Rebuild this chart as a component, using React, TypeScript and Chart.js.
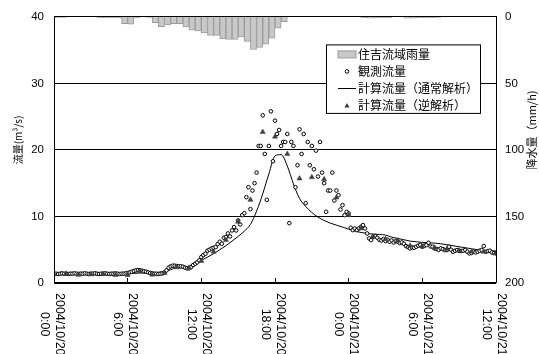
import React, { useEffect, useRef } from "react";
import { Chart, registerables } from "chart.js";

Chart.register(...registerables);

// ---- data ----
// rainfall (mm/h), half-hour steps starting 2004/10/20 0:00
const rainStepHours = 0.5;
const rain = [
  0.3, 0.3, 0, 0, 0, 0, 0, 0.5, 0.5, 0.5, 0.5, 5, 5.5, 0.7, 0, 0.3, 4.3, 7.3,
  6, 5, 5, 7.5, 10, 10.5, 12, 14, 14, 16.5, 17, 17, 15, 18.5, 24.5, 23, 20.5, 16,
  8.5, 3.5, 0, 0, 0, 0, 0, 0, 0, 0, 0, 0, 0, 0, 0.5, 1, 0.5, 0.5, 0.5, 0,
  0, 1, 1, 0.5, 0.5, 0.5, 0.3, 0, 0, 0, 0, 0, 0, 0, 0, 0,
];

// observed flow (m3/s), 10-minute steps
const obsStepHours = 1 / 6;
const obsFlow = [
  1.4, 1.4, 1.35, 1.4, 1.45, 1.4, 1.4, 1.35, 1.4, 1.4, 1.45, 1.4,
  1.35, 1.4, 1.4, 1.45, 1.4, 1.35, 1.4, 1.4, 1.45, 1.4, 1.35, 1.4,
  1.4, 1.45, 1.4, 1.35, 1.4, 1.4, 1.45, 1.4, 1.35, 1.4, 1.4, 1.45,
  1.5, 1.6, 1.7, 1.8, 1.9, 1.95, 1.9, 1.85, 1.75, 1.7, 1.6, 1.5,
  1.45, 1.4, 1.4, 1.35, 1.4, 1.45, 1.6, 1.9, 2.3, 2.5, 2.6, 2.6,
  2.55, 2.5, 2.5, 2.45, 2.3, 2.2, 2.2, 2.4, 2.7, 2.9, 3.1, 3.4,
  3.9, 4.2, 4.4, 4.85, 5.0, 5.2, 5.3, 5.4, 5.85, 6.2, 5.9, 6.8,
  6.9, 7.45, 7.0, 7.9, 8.4, 7.9, 9.4, 8.8, 10.2, 10.5, 12.9, 14.4,
  11.1, 13.9, 15.0, 16.6, 20.6, 20.6, 25.2, 19.4, 12.5, 20.6, 25.8, 18.3,
  24.4, 22.4, 23.0, 20.6, 21.2, 21.2, 22.4, 9.0, 21.2, 20.6, 14.4, 17.7,
  23.1, 19.4, 22.4, 12.0, 21.2, 17.7, 20.6, 17.1, 19.9, 16.0, 21.2, 16.6,
  15.0, 10.7, 13.9, 13.9, 16.6, 12.4, 13.9, 13.2, 11.05, 11.7, 10.2, 10.7,
  10.45, 8.3, 7.95, 8.2, 7.95, 8.2, 8.45, 8.7, 8.2, 7.45, 6.7, 6.45,
  6.95, 7.05, 6.8, 6.5, 6.4, 6.6, 6.3, 6.5, 6.2, 6.4, 6.1, 6.3,
  6.2, 6.0, 6.1, 5.9, 5.55, 5.4, 5.2, 5.35, 5.3, 5.45, 5.6, 5.7,
  5.45, 5.6, 5.7, 6.05, 5.5, 5.45, 5.2, 5.1, 5.0, 5.2, 5.1, 4.95,
  4.95, 5.45, 5.0, 4.7, 4.85, 4.95, 4.85, 4.8, 4.85, 4.95, 4.7, 4.45,
  4.5, 4.7, 4.6, 4.7, 4.85, 4.95, 5.55, 4.7, 4.8, 4.85, 4.6, 4.5,
  4.45,
];

// calculated flow, normal analysis (m3/s), half-hour steps
const calcStepHours = 0.5;
const calcNormal = [
  1.35, 1.35, 1.35, 1.35, 1.35, 1.35, 1.35, 1.35, 1.35, 1.35, 1.35, 1.35,
  1.4, 1.45, 1.5, 1.5, 1.55, 1.6, 1.7, 2.0, 2.3, 2.4, 2.5, 2.9,
  3.4, 3.9, 4.4, 5.0, 5.6, 6.3, 7.0, 7.8, 8.8, 10.8, 13.4, 16.4,
  19.1, 19.3, 17.6, 14.9, 12.7, 11.5, 10.6, 9.9, 9.4, 9.0, 8.7, 8.4,
  8.1, 7.8, 7.6, 7.45, 7.35, 7.3, 7.2, 6.9, 6.7, 6.5, 6.3, 6.2,
  6.1, 6.05, 6.0, 5.9, 5.75, 5.6, 5.45, 5.3, 5.15, 5.0, 4.9, 4.85,
  4.8,
];

// calculated flow, inverse analysis (m3/s), hourly
const invStepHours = 1;
const calcInverse = [
  1.3, 1.4, 1.25, 1.3, 1.35, 1.2, 1.2, 1.8, 1.25, 1.5, 2.35, 2.3,
  3.3, 4.7, 6.45, 9.2, 12.5, 22.7, 22.0, 19.4, 15.7, 15.9, 15.6, 12.85,
  10.2, 8.2, 7.0, 6.6, 6.4, 5.6, 5.5, 5.3, 5.1, 4.9, 4.7, 4.7, 4.5,
];

const xTickHours = [0, 6, 12, 18, 24, 30, 36];
const xTickDates = ["2004/10/20", "2004/10/20", "2004/10/20", "2004/10/20", "2004/10/21", "2004/10/21", "2004/10/21"];
const xTickTimes = ["0:00", "6:00", "12:00", "18:00", "0:00", "6:00", "12:00"];

const seriesNames = ["住吉流域雨量", "観測流量", "計算流量（通常解析）", "計算流量（逆解析）"];
const leftTitle = "流量(m³/s)";
const rightTitle = "降水量（mm/h)";

const SANS = "'Liberation Sans', Arial, sans-serif";
const CJK = "'Noto Sans CJK JP', sans-serif";

const RAIN_FILL = "#c8c8c8";
const RAIN_EDGE = "#9a9a9a";
const TRI_COLOR = "#404040";

function drawTriangle(ctx: CanvasRenderingContext2D, x: number, y: number, r: number) {
  ctx.beginPath();
  ctx.moveTo(x, y - r);
  ctx.lineTo(x + r * 0.866, y + r * 0.5);
  ctx.lineTo(x - r * 0.866, y + r * 0.5);
  ctx.closePath();
  ctx.fill();
}

const decorPlugin = {
  id: "decor",
  afterDatasetsDraw(chart: any) {
    const { ctx, chartArea: a, scales } = chart;
    const al = (v: number) => Math.round(v - 0.5) + 0.5;
    ctx.save();
    ctx.strokeStyle = "#000";
    ctx.lineWidth = 1;
    ctx.strokeRect(al(a.left), al(a.top), Math.round(a.right - a.left), Math.round(a.bottom - a.top));
    ctx.beginPath();
    xTickHours.forEach((h) => {
      const px = al(scales.x.getPixelForValue(h));
      ctx.moveTo(px, a.bottom - 5);
      ctx.lineTo(px, a.bottom);
    });
    ctx.stroke();

    const bx = a.right - 169.5;
    const by = a.top + 28;
    const bw = 154;
    const bh = 68.5;
    ctx.fillStyle = "#fff";
    ctx.fillRect(bx, by, bw, bh);
    ctx.strokeRect(bx, by, bw, bh);
    const symX = bx + 20.5;
    const textX = bx + 31.5;
    ctx.font = "12px " + CJK;
    ctx.textAlign = "left";
    ctx.textBaseline = "middle";
    seriesNames.forEach((name, k) => {
      const ry = by + 9.5 + k * 17;
      if (k === 0) {
        ctx.fillStyle = RAIN_FILL;
        ctx.fillRect(symX - 9, ry - 3.5, 18, 7);
        ctx.strokeStyle = RAIN_EDGE;
        ctx.strokeRect(symX - 9, ry - 3.5, 18, 7);
      } else if (k === 1) {
        ctx.strokeStyle = "#000";
        ctx.beginPath();
        ctx.arc(symX, ry, 1.8, 0, Math.PI * 2);
        ctx.fillStyle = "#fff";
        ctx.fill();
        ctx.stroke();
      } else if (k === 2) {
        ctx.strokeStyle = "#000";
        ctx.beginPath();
        ctx.moveTo(symX - 9, Math.round(ry) + 0.5);
        ctx.lineTo(symX + 9, Math.round(ry) + 0.5);
        ctx.stroke();
      } else {
        ctx.fillStyle = TRI_COLOR;
        drawTriangle(ctx, symX, ry + 0.5, 3);
      }
      ctx.fillStyle = "#000";
      ctx.fillText(name, textX, ry + 0.5);
    });
    ctx.restore();
  },
  afterDraw(chart: any) {
    const { ctx, chartArea: a, scales } = chart;
    ctx.save();
    ctx.fillStyle = "#000";
    ctx.font = "12.5px " + SANS;
    ctx.textBaseline = "middle";
    xTickHours.forEach((h, k) => {
      const px = scales.x.getPixelForValue(h);
      const w = ctx.measureText(xTickDates[k]).width;
      ctx.save();
      ctx.translate(px, a.bottom + 10);
      ctx.rotate(Math.PI / 2);
      ctx.textAlign = "left";
      ctx.fillText(xTickDates[k], 0, -5);
      ctx.textAlign = "center";
      ctx.fillText(xTickTimes[k], w / 2, 10);
      ctx.restore();
    });
    ctx.textAlign = "center";
    ctx.font = "10px " + CJK;
    ctx.save();
    ctx.translate(18, 140);
    ctx.rotate(-Math.PI / 2);
    ctx.fillText(leftTitle, 0, 0);
    ctx.restore();
    ctx.font = "11px " + CJK;
    ctx.save();
    ctx.translate(532, 130);
    ctx.rotate(-Math.PI / 2);
    ctx.fillText(rightTitle, 0, 0);
    ctx.restore();
    ctx.restore();
  },
};

export default function App() {
  const ref = useRef<HTMLCanvasElement | null>(null);
  useEffect(() => {
    if (!ref.current) return;
    const rainData = rain.map((v, i) => ({ x: i * rainStepHours + rainStepHours / 2, y: v > 0 ? v : null }));
    const obsData = obsFlow.map((v, i) => ({ x: i * obsStepHours, y: v }));
    const calcData = calcNormal.map((v, i) => ({ x: i * calcStepHours, y: v }));
    const invData = calcInverse.map((v, i) => ({ x: i * invStepHours, y: v }));

    const chart = new Chart(ref.current, {
      type: "bar",
      data: {
        datasets: [
          {
            type: "bar",
            label: seriesNames[0],
            data: rainData as any,
            xAxisID: "x",
            yAxisID: "y2",
            backgroundColor: RAIN_FILL,
            borderColor: RAIN_EDGE,
            borderWidth: 1,
            barPercentage: 1,
            categoryPercentage: 1,
            order: 4,
          },
          {
            type: "line",
            label: seriesNames[2],
            data: calcData,
            yAxisID: "y",
            borderColor: "#000",
            borderWidth: 1,
            pointRadius: 0,
            cubicInterpolationMode: "monotone",
            fill: false,
            order: 3,
          },
          {
            type: "line",
            label: seriesNames[1],
            data: obsData,
            yAxisID: "y",
            showLine: false,
            pointStyle: "circle",
            pointRadius: 1.8,
            pointBorderWidth: 1,
            pointBorderColor: "#000",
            pointBackgroundColor: "#fff",
            order: 2,
          },
          {
            type: "line",
            label: seriesNames[3],
            data: invData,
            yAxisID: "y",
            showLine: false,
            pointStyle: "triangle",
            pointRadius: 3,
            pointBorderWidth: 0.5,
            pointBorderColor: TRI_COLOR,
            pointBackgroundColor: TRI_COLOR,
            order: 1,
          },
        ],
      },
      options: {
        responsive: false,
        devicePixelRatio: 1,
        animation: false,
        events: [],
        layout: { padding: { top: 16, left: 0, right: 0, bottom: 0 } },
        plugins: { legend: { display: false }, tooltip: { enabled: false } },
        scales: {
          x: {
            type: "linear",
            min: 0,
            max: 36,
            offset: false,
            grid: { display: false, offset: false },
            border: { display: false },
            ticks: { display: false },
            afterFit: (s: any) => {
              s.height = 71;
            },
          },
          y: {
            position: "left",
            min: 0,
            max: 40,
            ticks: { stepSize: 10, color: "#000", padding: 10, font: { family: SANS, size: 11.5 } },
            grid: { color: "#000", lineWidth: 1, drawTicks: false },
            border: { display: false },
            afterFit: (s: any) => {
              s.width = 54;
            },
          },
          y2: {
            position: "right",
            min: 0,
            max: 200,
            reverse: true,
            ticks: { stepSize: 50, color: "#000", padding: 9, font: { family: SANS, size: 11.5 } },
            grid: { display: false, drawTicks: false },
            border: { display: false },
            afterFit: (s: any) => {
              s.width = 43;
            },
          },
        },
      },
      plugins: [decorPlugin],
    } as any);
    return () => chart.destroy();
  }, []);

  return (
    <div style={{ position: "absolute", left: 0, top: 0, width: 539, height: 354, background: "#fff" }}>
      <canvas ref={ref} width={539} height={354} style={{ display: "block" }} />
    </div>
  );
}
